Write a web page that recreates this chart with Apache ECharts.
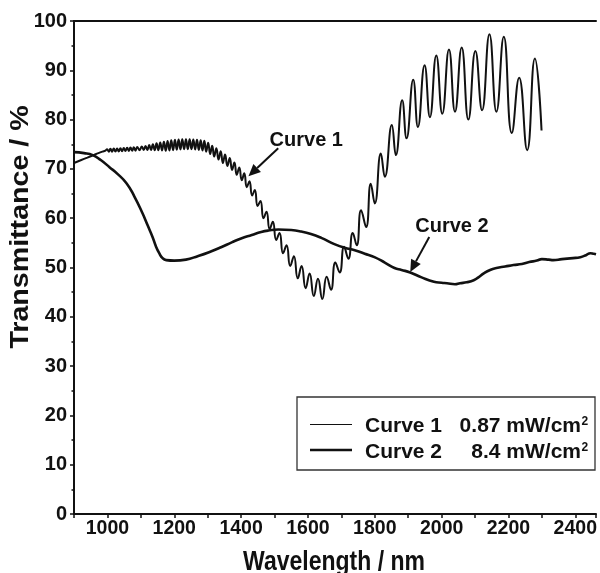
<!DOCTYPE html>
<html><head><meta charset="utf-8">
<script src="https://cdn.jsdelivr.net/npm/echarts@6/dist/echarts.min.js"></script>
<style>html,body{margin:0;padding:0;background:#fff}#c{width:600px;height:573px}</style>
</head><body><div id="c"></div>
<script>
// ---- data ----
const wavelengthTicks = [1000, 1200, 1400, 1600, 1800, 2000, 2200, 2400];
const transmittanceTicks = [0, 10, 20, 30, 40, 50, 60, 70, 80, 90, 100];

// Curve 1 : 0.87 mW/cm2 (oscillating, [wavelength nm, transmittance %])
const curve1 = [
[900,71.2],[920,71.75],[940,72.3],[960,72.85],[975,73.25],[985,73.5],[994,73.7],
[999,74.0],[1004,73.5],[1009,74.1],[1014,73.5],[1019,74.15],[1024,73.55],[1029,74.15],[1034,73.55],[1039,74.2],[1044,73.6],
[1049,74.25],[1054,73.65],[1059,74.3],[1064,73.65],[1069,74.35],[1074,73.7],[1079,74.4],[1084,73.7],[1089,74.45],[1096,73.8],
[1103,74.55],[1108.5,73.85],[1114,74.65],[1119.5,73.85],[1125,74.85],[1130.5,73.85],[1136,75.0],[1141.5,73.8],[1147,75.2],[1152.5,73.8],
[1158,75.35],[1163.5,73.75],[1169,75.5],[1174.5,73.7],[1180,75.65],[1185.5,73.75],[1191,75.8],[1196.5,73.8],[1202,75.9],[1207.5,73.9],
[1213,75.95],[1218.5,73.95],[1224,76.0],[1229.5,74.0],[1235,76.0],[1240.5,74.0],[1246,76.0],[1251.5,74.0],[1257,75.95],[1262.5,73.95],
[1268,75.9],[1273.5,73.85],[1279,75.8],[1284.5,73.75],[1290,75.7],[1295.5,73.5],[1301.5,75.3],[1307.5,73.0],[1313.5,74.7],[1319.5,72.5],
[1326,74.2],[1332.5,71.9],[1339,73.6],[1345.5,71.2],[1352,72.9],[1359,70.6],[1366,72.2],[1373,69.8],[1380,71.3],[1387,68.8],
[1394.5,70.3],[1402,67.7],[1409.5,69.1],[1417,66.3],[1425,67.5],[1433,64.6],[1441,65.7],[1449.5,62.5],[1458,63.5],[1467,60.0],
[1476,61.3],[1485.5,57.8],[1495,59.3],[1505,55.6],[1515,57.0],[1525.5,52.9],[1536,54.5],[1547,50.3],[1558,52.3],[1569.5,47.8],
[1581,50.3],[1593,45.8],[1605,48.8],[1617.5,44.2],[1630,47.7],[1643,43.6],[1656,48.1],[1669,45.5],[1682,51.0],[1695,49.0],
[1708,54.2],[1721,51.8],[1734,57.0],[1746,54.5],[1759,61.6],[1774,58.2],[1788,67.0],[1800,63.0],[1818,73.1],[1830,68.4],
[1851,78.9],[1863,72.8],[1882,83.9],[1895,76.2],[1915,88.1],[1929,78.5],[1949,91.0],[1965,80.5],[1984,93.0],[2002,81.2],
[2022,94.2],[2040,81.6],[2060,94.6],[2080,80.0],[2101,93.9],[2121,81.9],[2143,97.3],[2164,81.6],[2186,96.8],[2210,77.3],
[2232,88.5],[2256,73.8],[2279,92.4],[2299,77.8]
];

// Curve 2 : 8.4 mW/cm2 (smooth)
const curve2 = [
[900,73.4],[930,73.2],[956,72.8],[980,71.8],[1007,70.3],[1030,69.0],[1057,67.1],[1080,64.5],[1105,61.0],[1120,58.6],
[1135,56.2],[1145,54.3],[1155,52.9],[1165,51.9],[1176,51.5],[1200,51.4],[1235,51.6],[1270,52.3],[1304,53.1],[1340,54.1],
[1372,55.1],[1400,55.9],[1432,56.6],[1460,57.2],[1482,57.5],[1511,57.7],[1550,57.6],[1580,57.3],[1609,56.8],[1640,56.0],
[1681,54.7],[1710,54.0],[1740,53.5],[1770,52.8],[1799,52.1],[1830,51.0],[1859,49.9],[1880,49.5],[1906,49.0],[1940,48.0],
[1977,47.1],[2000,46.9],[2016,46.8],[2040,46.6],[2055,46.8],[2075,47.0],[2096,47.4],[2110,48.0],[2126,48.8],[2145,49.5],
[2164,49.9],[2190,50.2],[2215,50.5],[2240,50.7],[2262,51.1],[2285,51.4],[2300,51.7],[2320,51.6],[2334,51.5],[2360,51.7],
[2393,51.9],[2415,52.1],[2432,52.5],[2445,52.9],[2455,52.8],[2462,52.7]
];

const seriesNames = ['Curve 1', 'Curve 2'];
const seriesIntensity = ['0.87 mW/cm', '8.4 mW/cm'];
// annotation arrows in data coordinates: [from, to] and label centre
const annotations = [
  {text: 'Curve 1', label: [1595, 75.8], from: [1511, 74.2], to: [1422, 68.5]},
  {text: 'Curve 2', label: [2031, 58.4], from: [1963, 56.2], to: [1906, 49.1]}
];

// ---- chart ----
const FONT = "'Liberation Sans', Arial, Helvetica, sans-serif";
const INK = '#111';
const chart = echarts.init(document.getElementById('c'));
const axisLine = {show: true, lineStyle: {color: INK, width: 2}};
chart.setOption({
  animation: false,
  backgroundColor: '#fff',
  grid: {left: 74, top: 21, right: 0, bottom: 59, containLabel: false},
  xAxis: [{
    type: 'value', min: 900, max: 2462, interval: 100, position: 'bottom',
    axisLine: axisLine,
    axisTick: {show: true, inside: false, length: 4, lineStyle: {color: INK, width: 1.5}},
    splitLine: {show: false},
    axisLabel: {show: true, margin: 5, color: INK, fontFamily: FONT, fontWeight: 'bold', fontSize: 19.5,
      formatter: v => wavelengthTicks.indexOf(v) >= 0 ? String(v) : ''}
  }, {
    type: 'value', min: 900, max: 2462, position: 'top',
    axisLine: axisLine, axisTick: {show: false}, axisLabel: {show: false}, splitLine: {show: false}
  }],
  yAxis: {
    type: 'value', min: 0, max: 100, interval: 10,
    axisLine: axisLine,
    axisTick: {show: true, inside: false, length: 4, lineStyle: {color: INK, width: 1.5}},
    minorTick: {show: true, splitNumber: 2, length: 2.5, lineStyle: {color: INK, width: 1.5}},
    splitLine: {show: false},
    axisLabel: {show: true, margin: 7, color: INK, fontFamily: FONT, fontWeight: 'bold', fontSize: 20,
      formatter: v => transmittanceTicks.indexOf(v) >= 0 ? String(v) : ''}
  },
  series: [
    {name: seriesNames[0], type: 'line', data: curve1, smooth: true, symbol: 'none',
     xAxisIndex: 0, yAxisIndex: 0, lineStyle: {color: INK, width: 2}},
    {name: seriesNames[1], type: 'line', data: curve2, smooth: true, symbol: 'none',
     xAxisIndex: 0, yAxisIndex: 0, lineStyle: {color: INK, width: 2.6}}
  ]
});

// ---- titles, annotations, legend ----
const toPx = p => chart.convertToPixel({seriesIndex: 0}, p);
const g = [];
g.push({type: 'text', x: 21, y: 227, rotation: Math.PI / 2, scaleX: 1.1,
  style: {text: 'Transmittance / %', font: 'bold 26px ' + FONT, fill: INK, align: 'center', verticalAlign: 'middle'}});
g.push({type: 'text', x: 334, y: 562, scaleY: 1.2,
  style: {text: 'Wavelength / nm', font: 'bold 23px ' + FONT, fill: INK, align: 'center', verticalAlign: 'middle'}});
annotations.forEach(a => {
  const c = toPx(a.label), s = toPx(a.from), t = toPx(a.to);
  g.push({type: 'text', x: c[0], y: c[1],
    style: {text: a.text, font: 'bold 20px ' + FONT, fill: INK, align: 'center', verticalAlign: 'middle'}});
  const dx = t[0] - s[0], dy = t[1] - s[1], L = Math.hypot(dx, dy), ux = dx / L, uy = dy / L;
  const hl = 12, hw = 5.5, b = [t[0] - ux * hl, t[1] - uy * hl];
  g.push({type: 'line', shape: {x1: s[0], y1: s[1], x2: b[0], y2: b[1]}, style: {stroke: INK, lineWidth: 2}});
  g.push({type: 'polygon', shape: {points: [t, [b[0] - uy * hw, b[1] + ux * hw], [b[0] + uy * hw, b[1] - ux * hw]]},
    style: {fill: INK}});
});
// legend box
g.push({type: 'rect', shape: {x: 297, y: 397, width: 298, height: 73}, style: {fill: '#fff', stroke: '#333', lineWidth: 1.3}, z: 10});
const rows = [{y: 426, lw: 1.2, lineY: 424.5}, {y: 452, lw: 2.5, lineY: 450}];
rows.forEach((r, i) => {
  g.push({type: 'line', z: 11, shape: {x1: 310, y1: r.lineY, x2: 352, y2: r.lineY}, style: {stroke: INK, lineWidth: r.lw}});
  g.push({type: 'text', z: 11, x: 365, y: r.y,
    style: {text: seriesNames[i], font: 'bold 21px ' + FONT, fill: INK, align: 'left', verticalAlign: 'middle'}});
  g.push({type: 'text', z: 11, x: 581, y: r.y,
    style: {text: seriesIntensity[i], font: 'bold 21px ' + FONT, fill: INK, align: 'right', verticalAlign: 'middle'}});
  g.push({type: 'text', z: 11, x: 581.5, y: r.y - 4,
    style: {text: '2', font: 'bold 12px ' + FONT, fill: INK, align: 'left', verticalAlign: 'middle'}});
});
chart.setOption({graphic: g});
</script>
</body></html>
